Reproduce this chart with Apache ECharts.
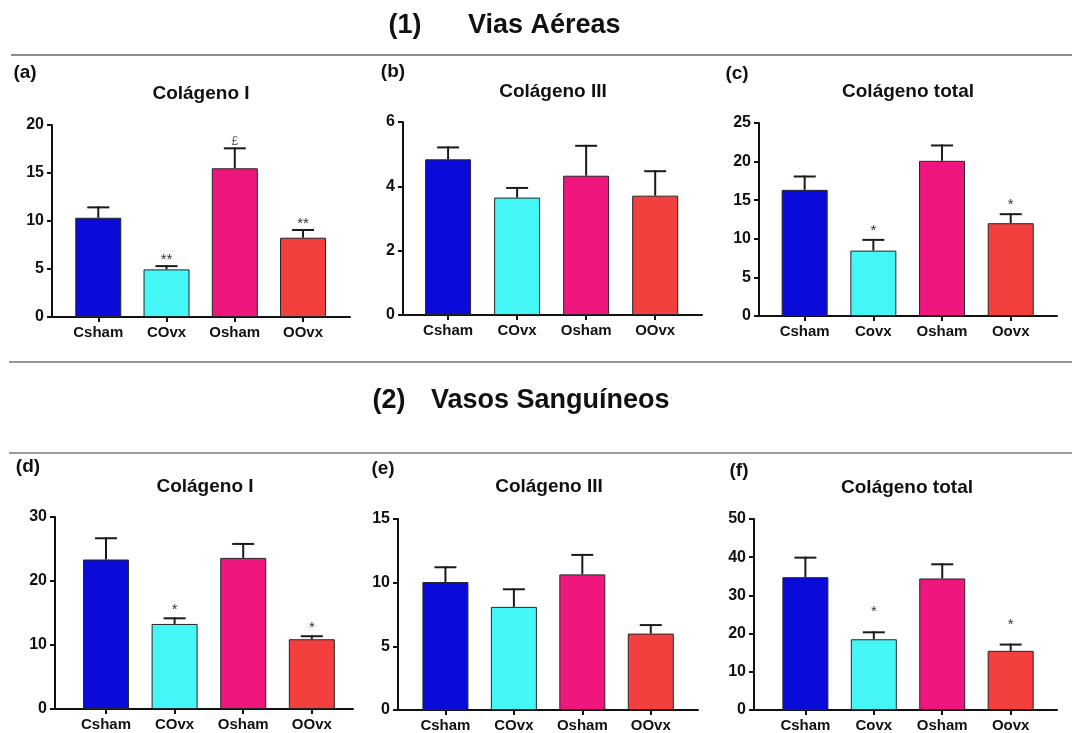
<!DOCTYPE html>
<html>
<head>
<meta charset="utf-8">
<title>Colágeno — Vias Aéreas e Vasos Sanguíneos</title>
<script src="https://cdn.jsdelivr.net/npm/echarts@6/dist/echarts.min.js"></script>
<style>
  html, body { margin: 0; padding: 0; background: #ffffff; }
  #chart { width: 1072px; height: 733px; }
</style>
</head>
<body>
<div id="chart"></div>
<script>
// ---- Group names ----
const groupsUpper = ['Csham', 'COvx', 'Osham', 'OOvx'];
const groupsMixed = ['Csham', 'Covx', 'Osham', 'Oovx'];

// ---- (1) Vias Aéreas: mean and SEM per group ----
const airColIMean = [10.34, 4.96, 15.49, 8.26];
const airColISem = [1.08, 0.34, 2.08, 0.80];
const airColISig = ['', '**', '£', '**'];

const airColIIIMean = [4.84, 3.65, 4.33, 3.71];
const airColIIISem = [0.37, 0.30, 0.93, 0.76];
const airColIIISig = ['', '', '', ''];

const airColTotMean = [16.34, 8.47, 20.10, 12.02];
const airColTotSem = [1.73, 1.39, 1.99, 1.17];
const airColTotSig = ['', '*', '', '*'];

// ---- (2) Vasos Sanguíneos: mean and SEM per group ----
const vesColIMean = [23.36, 13.29, 23.61, 10.90];
const vesColISem = [3.32, 0.88, 2.18, 0.47];
const vesColISig = ['', '*', '', '*'];

const vesColIIIMean = [10.05, 8.10, 10.65, 6.00];
const vesColIIISem = [1.16, 1.38, 1.53, 0.67];
const vesColIIISig = ['', '', '', ''];

const vesColTotMean = [34.77, 18.52, 34.43, 15.49];
const vesColTotSem = [5.11, 1.82, 3.71, 1.64];
const vesColTotSig = ['', '*', '', '*'];

// ---- Y axis scales (max, step) ----
const yMaxes = [20, 6, 25, 30, 15, 50];
const ySteps = [5, 2, 5, 10, 5, 10];

// ---- Panel texts ----
const panelTags = ['(a)', '(b)', '(c)', '(d)', '(e)', '(f)'];
const panelTitles = ['Colágeno I', 'Colágeno III', 'Colágeno total', 'Colágeno I', 'Colágeno III', 'Colágeno total'];
const sectionNums = ['(1)', '(2)'];
const sectionNames = ['Vias Aéreas', 'Vasos Sanguíneos'];

const panelData = [
  { cats: groupsUpper, mean: airColIMean, sem: airColISem, sig: airColISig },
  { cats: groupsUpper, mean: airColIIIMean, sem: airColIIISem, sig: airColIIISig },
  { cats: groupsMixed, mean: airColTotMean, sem: airColTotSem, sig: airColTotSig },
  { cats: groupsUpper, mean: vesColIMean, sem: vesColISem, sig: vesColISig },
  { cats: groupsUpper, mean: vesColIIIMean, sem: vesColIIISem, sig: vesColIIISig },
  { cats: groupsMixed, mean: vesColTotMean, sem: vesColTotSem, sig: vesColTotSig }
];

// ---- Layout (pixels) ----
const panelLayout = [
  { left: 52, right: 350, top: 125, bottom: 317, xMin: 0.322, xMax: 4.688, sigGap: 7, tag: [25, 73], title: [201, 94] },
  { left: 403, right: 702, top: 122, bottom: 315, xMin: 0.347, xMax: 4.678, sigGap: 7, tag: [393, 72], title: [553, 92] },
  { left: 759, right: 1057, top: 123, bottom: 316, xMin: 0.335, xMax: 4.674, sigGap: 10, tag: [737, 74], title: [908, 92] },
  { left: 55, right: 353, top: 517, bottom: 709, xMin: 0.257, xMax: 4.600, sigGap: 9, tag: [28, 467], title: [205, 487] },
  { left: 398, right: 698, top: 519, bottom: 712, xMin: 0.307, xMax: 4.690, sigGap: 9, tag: [383, 469], title: [549, 487] },
  { left: 754, right: 1057, top: 519, bottom: 712, xMin: 0.249, xMax: 4.677, sigGap: 21, tag: [739, 471], title: [907, 488] }
];

const barColors = ['#0b0bd9', '#45f6f6', '#ef177d', '#f43f3f'];
const FONT = '"Liberation Sans", Arial, Helvetica, sans-serif';
const INK = '#111111';

const grids = [], xAxes = [], yAxes = [], series = [], graphics = [];

panelLayout.forEach(function (L, p) {
  const D = panelData[p];
  grids.push({ left: L.left, top: L.top, width: L.right - L.left, height: L.bottom - L.top, containLabel: false });

  xAxes.push({
    type: 'value', gridIndex: p, min: L.xMin, max: L.xMax,
    splitLine: { show: false },
    axisLine: { show: true, onZero: false, lineStyle: { color: INK, width: 2 } },
    axisTick: { show: true, customValues: [1, 2, 3, 4], length: 5, lineStyle: { color: INK, width: 2 } },
    axisLabel: {
      show: true, customValues: [1, 2, 3, 4], margin: 8,
      fontFamily: FONT, fontWeight: 'bold', fontSize: 15, color: INK,
      formatter: function (v) { return D.cats[Math.round(v) - 1] || ''; }
    }
  });

  yAxes.push({
    type: 'value', gridIndex: p, min: 0, max: yMaxes[p], interval: ySteps[p],
    splitLine: { show: false },
    axisLine: { show: true, onZero: false, lineStyle: { color: INK, width: 2 } },
    axisTick: { show: true, length: 5, lineStyle: { color: INK, width: 2 } },
    axisLabel: { margin: 8, fontFamily: FONT, fontWeight: 'bold', fontSize: 16, color: INK }
  });

  series.push({
    type: 'bar', xAxisIndex: p, yAxisIndex: p, barWidth: 46, z: 2,
    itemStyle: { borderColor: '#262626', borderWidth: 1 },
    data: D.mean.map(function (v, i) {
      return { value: [i + 1, v], itemStyle: { color: barColors[i] } };
    })
  });

  // Upper SEM whiskers with significance marks above the cap
  series.push({
    type: 'custom', xAxisIndex: p, yAxisIndex: p, z: 5, clip: false,
    data: D.mean.map(function (v, i) { return [i + 1, v, D.sem[i]]; }),
    renderItem: function (params, api) {
      const x = api.value(0), m = api.value(1), s = api.value(2);
      const a = api.coord([x, m]);
      const b = api.coord([x, m + s]);
      const ls = { stroke: '#1a1a1a', lineWidth: 2 };
      const kids = [
        { type: 'line', shape: { x1: a[0], y1: a[1], x2: b[0], y2: b[1] - 1 }, style: ls },
        { type: 'line', shape: { x1: b[0] - 11, y1: b[1], x2: b[0] + 11, y2: b[1] }, style: ls }
      ];
      const mark = D.sig[params.dataIndex];
      if (mark) {
        kids.push({
          type: 'text', x: b[0], y: b[1] - L.sigGap + (mark === '£' ? 0 : 1),
          style: {
            text: mark, align: 'center', verticalAlign: 'middle',
            textAlign: 'center', textVerticalAlign: 'middle',
            font: (mark === '£' ? '12px ' : '15px ') + FONT, fill: mark === '£' ? '#666666' : '#333333'
          }
        });
      }
      return { type: 'group', children: kids };
    }
  });

  // Panel tag and title
  graphics.push({
    type: 'text', x: L.tag[0], y: L.tag[1],
    style: { text: panelTags[p], align: 'center', verticalAlign: 'middle', textAlign: 'center', textVerticalAlign: 'middle',
      font: 'bold 19px ' + FONT, fill: INK }
  });
  graphics.push({
    type: 'text', x: L.title[0], y: L.title[1],
    style: { text: panelTitles[p], align: 'center', verticalAlign: 'middle', textAlign: 'center', textVerticalAlign: 'middle',
      font: 'bold 19px ' + FONT, fill: INK }
  });
});

// Section headings
graphics.push(
  { type: 'text', x: 405, y: 26, style: { text: sectionNums[0], align: 'center', verticalAlign: 'middle', textAlign: 'center', textVerticalAlign: 'middle', font: 'bold 27px ' + FONT, fill: INK } },
  { type: 'text', x: 468, y: 26, style: { text: sectionNames[0], align: 'left', verticalAlign: 'middle', textAlign: 'left', textVerticalAlign: 'middle', font: 'bold 27px ' + FONT, fill: INK } },
  { type: 'text', x: 389, y: 401, style: { text: sectionNums[1], align: 'center', verticalAlign: 'middle', textAlign: 'center', textVerticalAlign: 'middle', font: 'bold 27px ' + FONT, fill: INK } },
  { type: 'text', x: 431, y: 401, style: { text: sectionNames[1], align: 'left', verticalAlign: 'middle', textAlign: 'left', textVerticalAlign: 'middle', font: 'bold 27px ' + FONT, fill: INK } }
);

// Divider rules
graphics.push(
  { type: 'line', shape: { x1: 11, y1: 55, x2: 1072, y2: 55 }, style: { stroke: '#666666', lineWidth: 1.5 } },
  { type: 'line', shape: { x1: 9, y1: 362, x2: 1072, y2: 362 }, style: { stroke: '#333333', lineWidth: 1.2 } },
  { type: 'line', shape: { x1: 9, y1: 453, x2: 1072, y2: 453 }, style: { stroke: '#777777', lineWidth: 1.5 } }
);

const chart = echarts.init(document.getElementById('chart'), null, { renderer: 'canvas' });
chart.setOption({
  backgroundColor: '#ffffff',
  animation: false,
  grid: grids,
  xAxis: xAxes,
  yAxis: yAxes,
  series: series,
  graphic: { elements: graphics }
});
</script>
</body>
</html>
